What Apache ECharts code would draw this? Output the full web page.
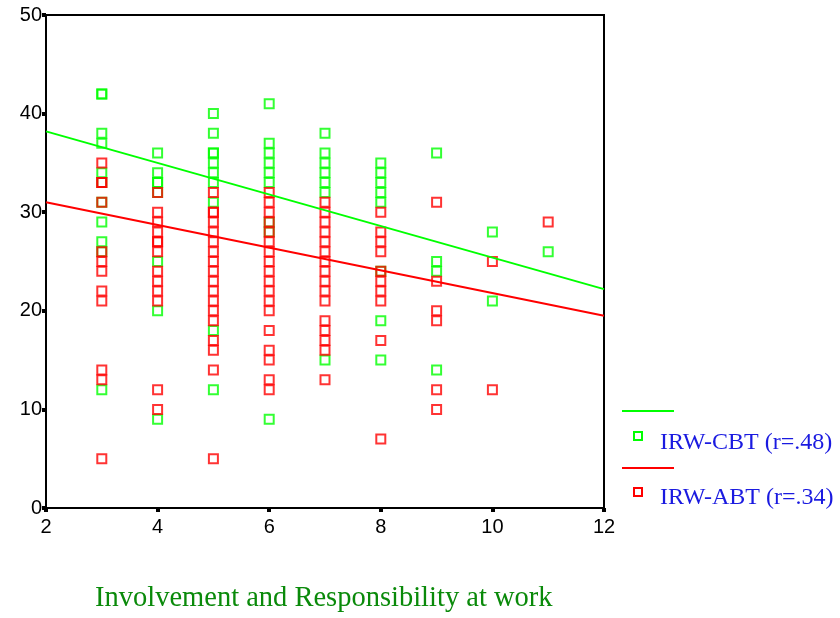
<!DOCTYPE html>
<html>
<head>
<meta charset="utf-8">
<script src="https://cdn.jsdelivr.net/npm/echarts@6/dist/echarts.min.js"></script>
<style>html,body{margin:0;padding:0;background:#fff;}#c{width:840px;height:618px;}</style>
</head>
<body>
<div id="c"></div>
<script>
// Scatter data: [x, y]
const cbtPoints = [
  [3,42],[3,42],[3,38],[3,37],[3,34],[3,33],[3,31],[3,29],[3,27],[3,26],[3,12],
  [4,36],[4,34],[4,33],[4,33],[4,32],[4,25],[4,20],[4,9],
  [5,40],[5,38],[5,36],[5,36],[5,35],[5,34],[5,33],[5,31],[5,18],[5,12],
  [6,41],[6,37],[6,36],[6,35],[6,34],[6,33],[6,29],[6,28],[6,9],
  [7,38],[7,36],[7,35],[7,34],[7,33],[7,32],[7,15],
  [8,35],[8,34],[8,33],[8,32],[8,31],[8,24],[8,19],[8,15],
  [9,36],[9,25],[9,24],[9,14],
  [10,28],[10,21],
  [11,26]
];
const abtPoints = [
  [3,35],[3,33],[3,33],[3,31],[3,26],[3,25],[3,24],[3,22],[3,21],[3,14],[3,13],[3,5],
  [4,32],[4,30],[4,29],[4,28],[4,27],[4,27],[4,26],[4,24],[4,23],[4,22],[4,21],[4,12],[4,10],
  [5,32],[5,30],[5,30],[5,29],[5,28],[5,27],[5,26],[5,25],[5,24],[5,23],[5,22],[5,21],[5,20],[5,19],[5,17],[5,16],[5,14],[5,5],
  [6,32],[6,31],[6,30],[6,29],[6,28],[6,27],[6,26],[6,25],[6,24],[6,23],[6,22],[6,21],[6,20],[6,18],[6,16],[6,15],[6,13],[6,12],
  [7,31],[7,30],[7,29],[7,28],[7,27],[7,26],[7,25],[7,24],[7,23],[7,22],[7,21],[7,19],[7,18],[7,17],[7,16],[7,13],
  [8,30],[8,28],[8,27],[8,26],[8,24],[8,23],[8,22],[8,21],[8,17],[8,7],
  [9,31],[9,23],[9,20],[9,19],[9,12],[9,10],
  [10,25],[10,12],
  [11,29]
];
// Fit lines (endpoints at axis limits)
const cbtFit = [[2,38.2],[12,22.2]];
const abtFit = [[2,31.0],[12,19.5]];
const xTicks = [2,4,6,8,10,12];
const yTicks = [0,10,20,30,40,50];
const legendLabels = ['IRW-CBT (r=.48)','IRW-ABT (r=.34)'];
const xTitle = 'Involvement and Responsibility at work';

const GREEN = '#00ff00', RED = '#ff0000', BLUE = '#1a1ae0';
const chart = echarts.init(document.getElementById('c'), null, {renderer:'canvas'});
const labelFont = {fontFamily:'Liberation Sans, Arial, sans-serif', fontSize:20, color:'#000'};
chart.setOption({
  animation:false,
  backgroundColor:'#fff',
  grid:{left:46, right:236, top:15, bottom:110, show:true, borderColor:'#000', borderWidth:2, backgroundColor:'transparent'},
  xAxis:{
    type:'value', min:2, max:12, interval:2,
    axisLine:{show:true, lineStyle:{color:'#000', width:2}},
    axisTick:{show:true, length:4, lineStyle:{color:'#000', width:4}},
    axisLabel:Object.assign({margin:9}, labelFont),
    splitLine:{show:false}
  },
  yAxis:{
    type:'value', min:0, max:50, interval:10,
    axisLine:{show:true, lineStyle:{color:'#000', width:2}},
    axisTick:{show:true, length:4, lineStyle:{color:'#000', width:4}},
    axisLabel:Object.assign({margin:4}, labelFont),
    splitLine:{show:false}
  },
  series:[
    {type:'scatter', name:legendLabels[0], data:cbtPoints, symbol:'rect', symbolSize:9,
     itemStyle:{color:'rgba(255,255,255,0)', borderColor:GREEN, borderWidth:2}, z:3},
    {type:'scatter', name:legendLabels[1], data:abtPoints, symbol:'rect', symbolSize:9,
     itemStyle:{color:'rgba(255,255,255,0)', borderColor:RED, borderWidth:2}, z:4},
    {type:'line', data:cbtFit, showSymbol:false, symbol:'none', lineStyle:{color:GREEN, width:2}, z:5},
    {type:'line', data:abtFit, showSymbol:false, symbol:'none', lineStyle:{color:RED, width:2}, z:5}
  ],
  graphic:[
    {type:'line', shape:{x1:622,y1:411,x2:674,y2:411}, style:{stroke:GREEN, lineWidth:2}},
    {type:'rect', shape:{x:634,y:432,width:8,height:8}, style:{fill:'none', stroke:GREEN, lineWidth:2}},
    {type:'text', x:660, y:443, style:{text:legendLabels[0], fill:BLUE, font:'24px "Liberation Serif", "Times New Roman", serif', textVerticalAlign:'middle', verticalAlign:'middle'}},
    {type:'line', shape:{x1:622,y1:468,x2:674,y2:468}, style:{stroke:RED, lineWidth:2}},
    {type:'rect', shape:{x:634,y:488,width:8,height:8}, style:{fill:'none', stroke:RED, lineWidth:2}},
    {type:'text', x:660, y:498, style:{text:legendLabels[1], fill:BLUE, font:'24px "Liberation Serif", "Times New Roman", serif', textVerticalAlign:'middle', verticalAlign:'middle'}},
    {type:'text', x:95, y:599, style:{text:xTitle, fill:'#0a8a0a', font:'28.5px "Liberation Serif", "Times New Roman", serif', textVerticalAlign:'middle', verticalAlign:'middle'}}
  ]
});
</script>
</body>
</html>
